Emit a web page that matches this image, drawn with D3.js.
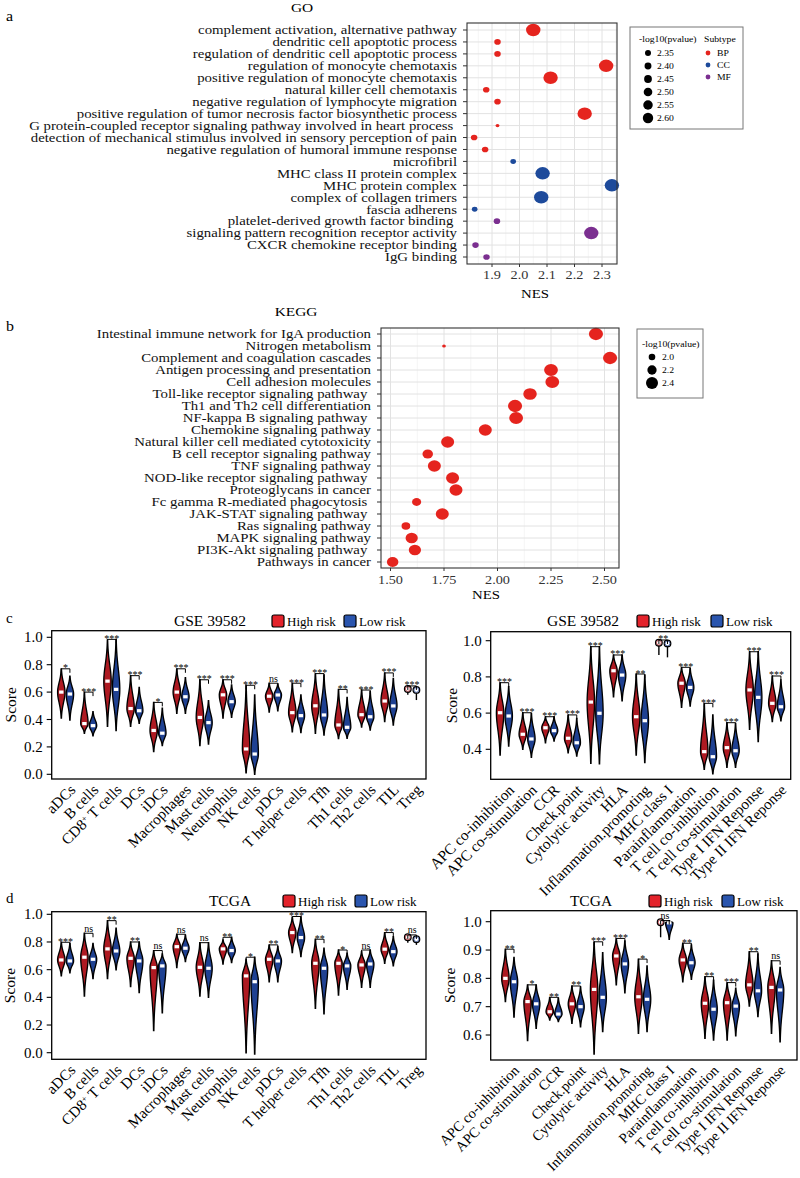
<!DOCTYPE html>
<html>
<head>
<meta charset="utf-8">
<script src="https://cdn.jsdelivr.net/npm/d3@7/dist/d3.min.js"></script>
<style>
body { margin: 0; background: #fff; }
svg { display: block; font-family: "Liberation Serif", "Times New Roman", serif; }
text { white-space: pre; }
</style>
</head>
<body>
<svg id="svg" width="800" height="1178"></svg>
<script>
// ---------- data: GO ----------
const goTerms = [
  "complement activation, alternative pathway",
  "dendritic cell apoptotic process",
  "regulation of dendritic cell apoptotic process",
  "regulation of monocyte chemotaxis",
  "positive regulation of monocyte chemotaxis",
  "natural killer cell chemotaxis",
  "negative regulation of lymphocyte migration",
  "positive regulation of tumor necrosis factor biosynthetic process",
  "G protein-coupled receptor signaling pathway involved in heart process ",
  "detection of mechanical stimulus involved in sensory perception of pain",
  "negative regulation of humoral immune response",
  "microfibril",
  "MHC class II protein complex",
  "MHC protein complex",
  "complex of collagen trimers",
  "fascia adherens",
  "platelet-derived growth factor binding ",
  "signaling pattern recognition receptor activity",
  "CXCR chemokine receptor binding",
  "IgG binding"
];
const goNES = [2.05, 1.92, 1.92, 2.315, 2.113, 1.879, 1.92, 2.237, 1.92, 1.835,
               1.875, 1.977, 2.084, 2.336, 2.079, 1.837, 1.918, 2.261, 1.84, 1.88];
const goLogP = [2.72, 2.33, 2.33, 2.72, 2.72, 2.33, 2.33, 2.72, 2.20, 2.33,
                2.33, 2.29, 2.72, 2.72, 2.72, 2.29, 2.33, 2.72, 2.33, 2.33];
const goType = ["BP","BP","BP","BP","BP","BP","BP","BP","BP","BP","BP",
                "CC","CC","CC","CC","CC","MF","MF","MF","MF"];
const goTicks = [1.9, 2.0, 2.1, 2.2, 2.3];
const goSizeBreaks = [2.35, 2.40, 2.45, 2.50, 2.55, 2.60];
const subtypes = ["BP", "CC", "MF"];

// ---------- data: KEGG ----------
const keggTerms = [
  "Intestinal immune network for IgA production",
  "Nitrogen metabolism",
  "Complement and coagulation cascades",
  "Antigen processing and presentation",
  "Cell adhesion molecules",
  "Toll-like receptor signaling pathway ",
  "Th1 and Th2 cell differentiation",
  "NF-kappa B signaling pathway ",
  "Chemokine signaling pathway",
  "Natural killer cell mediated cytotoxicity",
  "B cell receptor signaling pathway",
  "TNF signaling pathway",
  "NOD-like receptor signaling pathway ",
  "Proteoglycans in cancer",
  "Fc gamma R-mediated phagocytosis ",
  "JAK-STAT signaling pathway ",
  "Ras signaling pathway",
  "MAPK signaling pathway",
  "PI3K-Akt signaling pathway ",
  "Pathways in cancer"
];
const keggNES = [2.46, 1.75, 2.526, 2.25, 2.256, 2.152, 2.082, 2.087, 1.943, 1.767,
                 1.674, 1.705, 1.79, 1.806, 1.622, 1.742, 1.572, 1.599, 1.614, 1.51];
const keggLogP = [2.42, 1.75, 2.42, 2.40, 2.40, 2.38, 2.42, 2.40, 2.35, 2.35,
                  2.19, 2.35, 2.35, 2.35, 2.10, 2.35, 2.07, 2.30, 2.30, 2.25];
const keggTicks = [1.5, 1.75, 2.0, 2.25, 2.5];
const keggSizeBreaks = [2.0, 2.2, 2.4];

// ---------- data: immune violins ----------
const cellCats = ["aDCs","B cells","CD8+ T cells","DCs","iDCs","Macrophages","Mast cells",
  "Neutrophils","NK cells","pDCs","T helper cells","Tfh","Th1 cells","Th2 cells","TIL","Treg"];
const funcCats = ["APC co-inhibition","APC co-stimulation","CCR","Check.point","Cytolytic activity",
  "HLA","Inflammation.promoting","MHC class I","Parainflammation","T cell co-inhibition",
  "T cell co-stimulation","Type I IFN Reponse","Type II IFN Reponse"];

// [min, median, max]
const gseCellHigh = [[0.41,0.60,0.77],[0.30,0.37,0.60],[0.35,0.68,0.98],[0.35,0.48,0.72],
  [0.165,0.32,0.525],[0.445,0.60,0.77],[0.21,0.415,0.69],[0.41,0.58,0.69],[0.01,0.185,0.65],
  [0.455,0.57,0.665],[0.31,0.45,0.665],[0.30,0.50,0.735],[0.26,0.36,0.62],[0.345,0.435,0.615],
  [0.385,0.535,0.74],[0.58,0.623,0.645]];
const gseCellLow = [[0.395,0.586,0.717],[0.28,0.355,0.457],[0.32,0.62,0.985],[0.372,0.464,0.635],
  [0.209,0.30,0.482],[0.445,0.566,0.705],[0.221,0.377,0.537],[0.416,0.53,0.652],[0.0,0.148,0.579],
  [0.463,0.579,0.66],[0.304,0.428,0.579],[0.287,0.433,0.725],[0.263,0.343,0.562],[0.323,0.42,0.603],
  [0.36,0.499,0.70],[0.542,0.61,0.64]];
const gseCellSig = ["*","***","***","***","*","***","***","***","***","ns","***","***","**","***","***","***"];

const gseFuncHigh = [[0.368,0.602,0.768],[0.40,0.483,0.602],[0.436,0.519,0.58],[0.381,0.461,0.59],
  [0.323,0.661,0.967],[0.69,0.834,0.921],[0.368,0.58,0.816],[0.921,0.989,1.004],[0.632,0.765,0.853],
  [0.289,0.387,0.654],[0.30,0.409,0.547],[0.51,0.728,0.939],[0.553,0.654,0.805]];
const gseFuncLow = [[0.418,0.584,0.746],[0.356,0.457,0.598],[0.446,0.503,0.58],[0.363,0.436,0.57],
  [0.32,0.599,0.967],[0.668,0.81,0.921],[0.326,0.558,0.81],[0.908,0.985,1.0],[0.639,0.742,0.847],
  [0.264,0.359,0.59],[0.30,0.392,0.543],[0.442,0.687,0.939],[0.558,0.635,0.783]];
const gseFuncSig = ["***","***","***","***","***","***","**","**","***","***","***","***","***"];

const tcgaCellHigh = [[0.555,0.67,0.798],[0.41,0.69,0.863],[0.535,0.75,0.954],[0.477,0.682,0.80],
  [0.159,0.615,0.738],[0.615,0.766,0.856],[0.41,0.617,0.795],[0.641,0.75,0.815],[0.0,0.555,0.675],
  [0.513,0.675,0.779],[0.723,0.868,0.979],[0.321,0.646,0.82],[0.417,0.646,0.742],[0.473,0.634,0.73],
  [0.646,0.748,0.868],[0.795,0.834,0.851]];
const tcgaCellLow = [[0.578,0.663,0.79],[0.535,0.675,0.79],[0.598,0.735,0.90],[0.434,0.663,0.80],
  [0.289,0.627,0.714],[0.658,0.755,0.85],[0.40,0.61,0.795],[0.651,0.738,0.834],[-0.01,0.513,0.69],
  [0.513,0.663,0.766],[0.694,0.832,0.984],[0.28,0.61,0.755],[0.458,0.627,0.719],[0.473,0.641,0.742],
  [0.627,0.73,0.839],[0.779,0.82,0.844]];
const tcgaCellSig = ["***","ns","**","**","ns","ns","ns","**","*","**","***","**","*","ns","**","ns"];

const tcgaFuncHigh = [[0.718,0.80,0.903],[0.58,0.718,0.777],[0.653,0.682,0.733],[0.641,0.71,0.773],
  [0.533,0.761,0.929],[0.777,0.879,0.941],[0.606,0.735,0.868],[0.945,0.998,1.004],[0.788,0.865,0.924],
  [0.588,0.712,0.806],[0.582,0.714,0.785],[0.702,0.777,0.894],[0.606,0.768,0.862]];
const tcgaFuncLow = [[0.663,0.788,0.874],[0.624,0.71,0.777],[0.647,0.674,0.73],[0.629,0.70,0.77],
  [0.612,0.733,0.891],[0.749,0.851,0.932],[0.612,0.726,0.844],[0.938,0.996,1.004],[0.797,0.855,0.918],
  [0.582,0.691,0.794],[0.597,0.702,0.765],[0.665,0.756,0.886],[0.576,0.759,0.839]];
const tcgaFuncSig = ["**","*","**","**","***","***","*","ns","**","**","***","**","ns"];

const ticks01 = [0, 0.2, 0.4, 0.6, 0.8, 1.0];

// ---------- helpers ----------
const svg = d3.select("#svg");
const SX = 1.14; // top panels look horizontally stretched
const typeColor = {BP: "#e5241e", CC: "#1d4a9b", MF: "#7b2f90"};

function stext(g, x, y, s, size, anchor) {
  return g.append("text")
    .attr("transform", `translate(${x},${y}) scale(${SX},1)`)
    .attr("font-size", size)
    .attr("text-anchor", anchor || "start")
    .text(s);
}

function dotPlot(o) {
  const g = svg.append("g");
  const x = d3.scaleLinear().domain(o.xDom).range(o.xRange);
  const y = d3.scalePoint().domain(o.terms).range(o.yRange);
  const r = d3.scaleLinear().domain(o.rDom).range(o.rRange);
  const b = o.box;

  // grid
  o.minor.forEach(v => g.append("line").attr("x1", x(v)).attr("x2", x(v))
    .attr("y1", b.y0).attr("y2", b.y1).attr("stroke", "#f0f0f0").attr("stroke-width", 0.7));
  o.ticks.forEach(v => g.append("line").attr("x1", x(v)).attr("x2", x(v))
    .attr("y1", b.y0).attr("y2", b.y1).attr("stroke", "#e2e2e2").attr("stroke-width", 1));
  o.terms.forEach(t => g.append("line").attr("x1", b.x0).attr("x2", b.x1)
    .attr("y1", y(t)).attr("y2", y(t)).attr("stroke", "#e2e2e2").attr("stroke-width", 1));

  // points
  g.selectAll("ellipse.pt").data(o.terms).join("ellipse")
    .attr("cx", (d, i) => x(o.nes[i])).attr("cy", d => y(d))
    .attr("rx", (d, i) => r(o.logp[i]) * 1.15).attr("ry", (d, i) => r(o.logp[i]))
    .attr("fill", (d, i) => typeColor[o.type ? o.type[i] : "BP"]);

  // border
  g.append("rect").attr("x", b.x0).attr("y", b.y0).attr("width", b.x1 - b.x0).attr("height", b.y1 - b.y0)
    .attr("fill", "none").attr("stroke", "#333").attr("stroke-width", 1.1);

  // y axis labels + ticks
  o.terms.forEach(t => {
    g.append("line").attr("x1", b.x0 - 4).attr("x2", b.x0).attr("y1", y(t)).attr("y2", y(t))
      .attr("stroke", "#333").attr("stroke-width", 1);
    stext(g, b.x0 - 10, y(t) + 4.3, t, 13, "end").attr("fill", "#111");
  });
  // x axis
  o.ticks.forEach(v => {
    g.append("line").attr("x1", x(v)).attr("x2", x(v)).attr("y1", b.y1).attr("y2", b.y1 + 3)
      .attr("stroke", "#333");
    stext(g, x(v), o.tickY, o.tickFmt(v), 12.5, "middle").attr("fill", "#333");
  });
  stext(g, o.nesX, o.nesY, "NES", 13, "middle");
  stext(g, o.titleX, o.titleY, o.title, 13.5, "middle");
  stext(g, 6, o.letterY, o.letter, 14, "start");
  return {g, r};
}

// ---------- panel a: GO ----------
const pa = dotPlot({
  terms: goTerms, nes: goNES, logp: goLogP, type: goType,
  xDom: [1.9, 2.3], xRange: [492, 602], yRange: [30, 257],
  rDom: [2.35, 2.60], rRange: [3, 5.2],
  box: {x0: 467, x1: 617, y0: 23, y1: 264},
  ticks: goTicks, minor: [1.85, 1.95, 2.05, 2.15, 2.25, 2.35],
  tickFmt: d3.format(".1f"), tickY: 279, nesX: 535, nesY: 298,
  title: "GO", titleX: 302, titleY: 12, letter: "a", letterY: 21
});
{
  const g = pa.g;
  g.append("rect").attr("x", 630).attr("y", 27).attr("width", 113).attr("height", 102)
    .attr("fill", "#fff").attr("stroke", "#777").attr("stroke-width", 1);
  stext(g, 639, 42, "-log10(pvalue)", 8.5, "start");
  stext(g, 704, 42, "Subtype", 8.5, "start");
  goSizeBreaks.forEach((v, i) => {
    const yy = 53 + i * 13;
    g.append("circle").attr("cx", 648).attr("cy", yy).attr("r", pa.r(v)).attr("fill", "#000");
    stext(g, 657, yy + 3, v.toFixed(2), 8.5, "start");
  });
  subtypes.forEach((s, i) => {
    const yy = 53 + i * 12;
    g.append("circle").attr("cx", 708).attr("cy", yy).attr("r", 2.4).attr("fill", typeColor[s]);
    stext(g, 717, yy + 3, s, 8.5, "start");
  });
}

// ---------- panel b: KEGG ----------
const pb = dotPlot({
  terms: keggTerms, nes: keggNES, logp: keggLogP, type: null,
  xDom: [1.5, 2.5], xRange: [390.5, 604.5], yRange: [334, 562],
  rDom: [2.0, 2.4], rRange: [3.3, 6.0],
  box: {x0: 381, x1: 619, y0: 328, y1: 568},
  ticks: keggTicks, minor: [1.625, 1.875, 2.125, 2.375],
  tickFmt: d3.format(".2f"), tickY: 584, nesX: 486, nesY: 599,
  title: "KEGG", titleX: 296, titleY: 316, letter: "b", letterY: 331
});
{
  const g = pb.g;
  g.append("rect").attr("x", 637).attr("y", 329).attr("width", 66).attr("height", 69)
    .attr("fill", "#fff").attr("stroke", "#777").attr("stroke-width", 1);
  stext(g, 642, 347, "-log10(pvalue)", 8.5, "start");
  keggSizeBreaks.forEach((v, i) => {
    const yy = 357 + i * 13;
    g.append("circle").attr("cx", 652).attr("cy", yy).attr("r", pb.r(v)).attr("fill", "#000");
    stext(g, 662, yy + 3, v.toFixed(1), 8.5, "start");
  });
}

// ---------- violin panels ----------
const hiFill = "#ae1a22", loFill = "#1f4192";

function violinPath(st, cx, y, W) {
  const [mn, md, mx] = st;
  const sLo = Math.max((md - mn) / 2.5, 0.003), sHi = Math.max((mx - md) / 2.5, 0.003);
  const pts = d3.range(0, 49).map(i => {
    const v = mn + (mx - mn) * i / 48;
    const z = v < md ? (v - md) / sLo : (v - md) / sHi;
    return {v, w: W * Math.exp(-0.5 * z * z)};
  });
  return d3.area().y(d => y(d.v)).x0(d => cx - d.w).x1(d => cx + d.w)
    .curve(d3.curveCatmullRom)(pts);
}

function violinPanel(o) {
  const g = svg.append("g");
  const b = o.box;
  const x = d3.scalePoint().domain(o.cats).range(o.xRange);
  const y = d3.scaleLinear().domain(o.yDom).range(o.yRange);
  const dx = 4.3, W = 3.7;

  o.cats.forEach((c, i) => {
    const cx = x(c);
    [[o.high[i], cx - dx, hiFill], [o.low[i], cx + dx, loFill]].forEach(([st, px, col]) => {
      const compact = y(st[0]) - y(st[2]) < 18;
      if (compact) {
        // very narrow distributions read as an open ring with a short tail
        const cy = Math.min(y(st[1]), y(st[2]) + 3.3);
        g.append("line").attr("x1", px).attr("x2", px).attr("y1", cy).attr("y2", y(st[0]))
          .attr("stroke", "#000").attr("stroke-width", 1.4);
        g.append("circle").attr("cx", px).attr("cy", cy).attr("r", 3.3)
          .attr("fill", "#fff").attr("stroke", "#000").attr("stroke-width", 1.3);
        g.append("circle").attr("cx", px).attr("cy", cy).attr("r", 2.4)
          .attr("fill", "none").attr("stroke", col).attr("stroke-width", 0.7);
        return;
      }
      g.append("path").attr("d", violinPath(st, px, y, W))
        .attr("fill", col).attr("stroke", "#000").attr("stroke-width", 1.35);
      g.append("rect").attr("x", px - 2.2).attr("y", y(st[1]) - 1.6)
        .attr("width", 4.4).attr("height", 3.2).attr("fill", "#fff");
    });
    const top = y(Math.max(o.high[i][2], o.low[i][2]));
    g.append("path")
      .attr("d", `M${cx - dx},${top + 4}V${top}H${cx + dx}V${top + 4}`)
      .attr("fill", "none").attr("stroke", "#000").attr("stroke-width", 1);
    g.append("text").attr("x", cx).attr("y", o.sig[i] === "ns" ? top - 1.5 : top + 2.5)
      .attr("text-anchor", "middle").attr("font-size", 10).text(o.sig[i]);

    // category label
    const lab = g.append("text")
      .attr("transform", `translate(${cx + 3},${b.y1 + 4}) rotate(-45)`)
      .attr("text-anchor", "end").attr("dy", "0.72em").attr("font-size", o.labSize || 15.2);
    if (c === "CD8+ T cells") {
      lab.append("tspan").text("CD8");
      lab.append("tspan").attr("font-size", 9).attr("dy", "-0.5em").text("+");
      lab.append("tspan").attr("dy", "0.3em").text(" T cells");
    } else lab.text(c);
  });

  g.append("rect").attr("x", b.x0).attr("y", b.y0).attr("width", b.x1 - b.x0).attr("height", b.y1 - b.y0)
    .attr("fill", "none").attr("stroke", "#000").attr("stroke-width", 1.3);

  o.ticks.forEach(v => {
    g.append("line").attr("x1", b.x0 - 5).attr("x2", b.x0).attr("y1", y(v)).attr("y2", y(v))
      .attr("stroke", "#000").attr("stroke-width", 1.1);
    g.append("text").attr("x", b.x0 - 9).attr("y", y(v) + 5).attr("text-anchor", "end")
      .attr("font-size", 15).text(v.toFixed(1));
  });

  g.append("text").attr("transform", `translate(${o.scoreX},${(b.y0 + b.y1) / 2}) rotate(-90)`)
    .attr("text-anchor", "middle").attr("font-size", 15.5).text("Score");

  g.append("text").attr("x", o.titleX).attr("y", o.legY + 11).attr("text-anchor", "middle")
    .attr("font-size", 15.5).text(o.title);
  [[o.redX, "#e3232b", "High risk"], [o.blueX, "#2a55ae", "Low risk"]].forEach(([lx, col, s]) => {
    g.append("rect").attr("x", lx).attr("y", o.legY).attr("width", 12).attr("height", 12)
      .attr("rx", 2).attr("fill", col).attr("stroke", "#000").attr("stroke-width", 1.2);
    g.append("text").attr("x", lx + 15).attr("y", o.legY + 11).attr("font-size", 13).text(s);
  });
  if (o.letter) g.append("text").attr("x", 6).attr("y", o.legY + 8).attr("font-size", 15).text(o.letter);
}

violinPanel({
  cats: cellCats, high: gseCellHigh, low: gseCellLow, sig: gseCellSig,
  box: {x0: 51.7, x1: 426, y0: 630.7, y1: 779}, xRange: [65.6, 412.1],
  yDom: [0, 1], yRange: [774.3, 637.3], ticks: ticks01,
  scoreX: 16, title: "GSE 39582", titleX: 210, legY: 615, redX: 272, blueX: 344, letter: "c"
});
violinPanel({
  cats: funcCats, high: gseFuncHigh, low: gseFuncLow, sig: gseFuncSig,
  box: {x0: 490.7, x1: 790.7, y0: 631.7, y1: 779.3}, xRange: [504.4, 776.6],
  yDom: [0.4, 1.0], yRange: [749.3, 640.7], ticks: [0.4, 0.6, 0.8, 1.0],
  scoreX: 457, title: "GSE 39582", titleX: 583, legY: 615, redX: 637, blueX: 711
});
violinPanel({
  cats: cellCats, high: tcgaCellHigh, low: tcgaCellLow, sig: tcgaCellSig,
  box: {x0: 51.7, x1: 426, y0: 911.7, y1: 1059.3}, xRange: [65.6, 412.1],
  yDom: [0, 1], yRange: [1052.7, 914.3], ticks: ticks01,
  scoreX: 15, title: "TCGA", titleX: 230, legY: 895, redX: 283, blueX: 355, letter: "d"
});
violinPanel({
  cats: funcCats, high: tcgaFuncHigh, low: tcgaFuncLow, sig: tcgaFuncSig,
  box: {x0: 490.7, x1: 797, y0: 910.7, y1: 1060}, xRange: [509.7, 775.8],
  yDom: [0.6, 1.0], yRange: [1035, 921.7], ticks: [0.6, 0.7, 0.8, 0.9, 1.0],
  scoreX: 455, title: "TCGA", titleX: 591, legY: 895, redX: 649, blueX: 722, labSize: 14.4
});
</script>
</body>
</html>
